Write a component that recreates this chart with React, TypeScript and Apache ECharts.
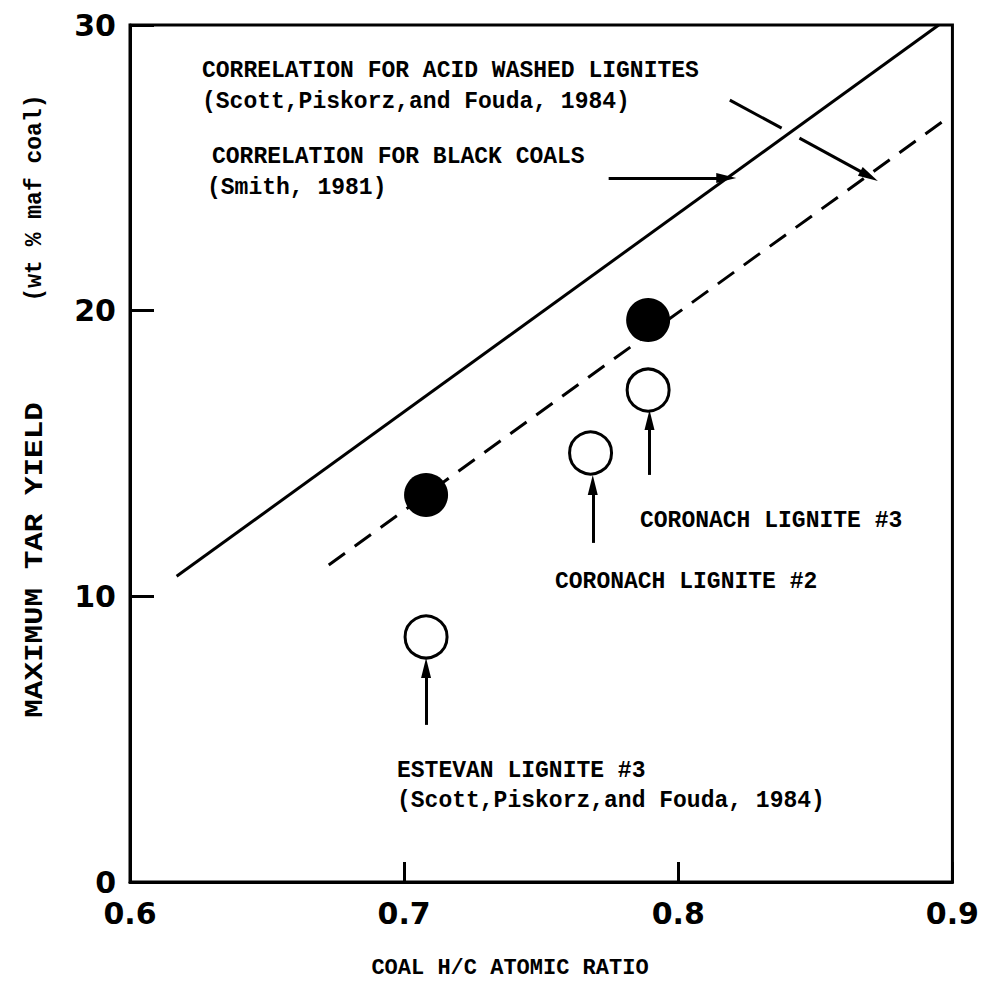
import { useEffect, useRef } from "react";
import * as echarts from "echarts";

// H/C atomic ratio vs. maximum tar yield (wt % maf coal)
const blackCoalCorrelation = [
  [0.617, 10.7],
  [0.895, 30.0],
];
const acidWashedCorrelation = [
  [0.6725, 11.1],
  [0.899, 26.8],
];
const acidWashedSamples = [
  [0.708, 13.55],
  [0.789, 19.67],
];
const rawLigniteSamples = [
  [0.708, 8.58], // Estevan lignite #3
  [0.768, 15.02], // Coronach lignite #2
  [0.789, 17.22], // Coronach lignite #3
];

// pointer arrows, in data units: [from, to, hasHead]
const pointers: [number[], number[], boolean][] = [
  [[0.7746, 24.64], [0.8175, 24.64], true], // -> black coal line
  [[0.8188, 27.37], [0.8377, 26.39], false], // acid-washed pointer, first part
  [[0.8442, 26.04], [0.8696, 24.71], true], // acid-washed pointer, head part
  [[0.7895, 14.25], [0.7895, 16.17], true], // Coronach #3
  [[0.7688, 11.87], [0.7688, 13.9], true], // Coronach #2
  [[0.708, 5.5], [0.708, 7.49], true], // Estevan #3
];

const notes = [
  "CORRELATION FOR ACID WASHED LIGNITES",
  "(Scott,Piskorz,and Fouda, 1984)",
  "CORRELATION FOR BLACK COALS",
  "(Smith, 1981)",
  "CORONACH LIGNITE #3",
  "CORONACH LIGNITE #2",
  "ESTEVAN LIGNITE #3",
  "(Scott,Piskorz,and Fouda, 1984)",
];
const xTitle = "COAL H/C ATOMIC RATIO";
const yTitleMain = "MAXIMUM TAR YIELD";
const yTitleUnit = "(wt % maf coal)";

const noteLayout = [
  { x: 202, y: 71 },
  { x: 202, y: 102 },
  { x: 212, y: 157 },
  { x: 207, y: 188 },
  { x: 640, y: 521 },
  { x: 555, y: 582 },
  { x: 397, y: 771 },
  { x: 397, y: 801 },
];

const MONO = '"Liberation Mono", "DejaVu Sans Mono", monospace';
const SANS = '"DejaVu Sans", sans-serif';
const HEAD = "path://M5,0 L10,20 L0,20 Z";

export default function App() {
  const ref = useRef<HTMLDivElement>(null);

  useEffect(() => {
    if (!ref.current) return;
    const chart = echarts.init(ref.current, null, { renderer: "svg" });

    const note = (text: string, x: number, y: number) => ({
      type: "text",
      x,
      y,
      silent: true,
      style: {
        text,
        fill: "#000",
        fontFamily: MONO,
        fontWeight: "bold",
        fontSize: 23,
        textAlign: "left",
        textVerticalAlign: "middle",
      },
    });

    chart.setOption({
      animation: false,
      backgroundColor: "#fff",
      grid: {
        left: 130,
        right: 24,
        top: 25,
        bottom: 106,
        show: true,
        borderColor: "#000",
        borderWidth: 3,
        backgroundColor: "transparent",
      },
      xAxis: {
        type: "value",
        min: 0.6,
        max: 0.9,
        interval: 0.1,
        axisLine: { lineStyle: { color: "#000", width: 3 } },
        axisTick: { inside: true, length: 20, lineStyle: { color: "#000", width: 3 } },
        splitLine: { show: false },
        axisLabel: {
          margin: 16,
          color: "#000",
          fontFamily: SANS,
          fontWeight: "bold",
          fontSize: 30,
          formatter: (v: number) => v.toFixed(1),
        },
      },
      yAxis: {
        type: "value",
        min: 0,
        max: 30,
        interval: 10,
        axisLine: { lineStyle: { color: "#000", width: 3 } },
        axisTick: { inside: true, length: 24, lineStyle: { color: "#000", width: 3 } },
        splitLine: { show: false },
        axisLabel: {
          margin: 14,
          color: "#000",
          fontFamily: SANS,
          fontWeight: "bold",
          fontSize: 30,
        },
      },
      series: [
        {
          type: "line",
          data: blackCoalCorrelation,
          symbol: "none",
          silent: true,
          lineStyle: { color: "#000", width: 3 },
          markLine: {
            silent: true,
            symbol: ["none", "none"],
            label: { show: false },
            lineStyle: { color: "#000", width: 3, type: "solid" },
            data: pointers.map(([a, b, head]) => [
              { coord: a, symbol: "none" },
              head
                ? { coord: b, symbol: HEAD, symbolSize: [10, 20] }
                : { coord: b, symbol: "none" },
            ]),
          },
        },
        {
          type: "line",
          data: acidWashedCorrelation,
          symbol: "none",
          silent: true,
          lineStyle: { color: "#000", width: 3, type: [20, 12] },
        },
        {
          type: "scatter",
          data: acidWashedSamples,
          symbol: "circle",
          symbolSize: 44,
          silent: true,
          itemStyle: { color: "#000", opacity: 1 },
        },
        {
          type: "scatter",
          data: rawLigniteSamples,
          symbol: "circle",
          symbolSize: 42,
          silent: true,
          itemStyle: { color: "#fff", borderColor: "#000", borderWidth: 3, opacity: 1 },
        },
      ],
      graphic: [
        ...notes.map((t, i) => note(t, noteLayout[i].x, noteLayout[i].y)),
        {
          type: "text",
          x: 510,
          y: 968,
          silent: true,
          style: {
            text: xTitle,
            fill: "#000",
            fontFamily: MONO,
            fontWeight: "bold",
            fontSize: 22,
            textAlign: "center",
            textVerticalAlign: "middle",
          },
        },
        {
          type: "text",
          x: 35,
          y: 560,
          rotation: Math.PI / 2,
          scaleX: 1.19,
          silent: true,
          style: {
            text: yTitleMain,
            fill: "#000",
            fontFamily: MONO,
            fontWeight: "bold",
            fontSize: 26,
            textAlign: "center",
            textVerticalAlign: "middle",
          },
        },
        {
          type: "text",
          x: 35,
          y: 198,
          rotation: Math.PI / 2,
          silent: true,
          style: {
            text: yTitleUnit,
            fill: "#000",
            fontFamily: MONO,
            fontWeight: "bold",
            fontSize: 23,
            textAlign: "center",
            textVerticalAlign: "middle",
          },
        },
      ],
    });

    return () => chart.dispose();
  }, []);

  return (
    <div
      ref={ref}
      style={{ position: "fixed", left: 0, top: 0, width: 982, height: 988, background: "#fff" }}
    />
  );
}
